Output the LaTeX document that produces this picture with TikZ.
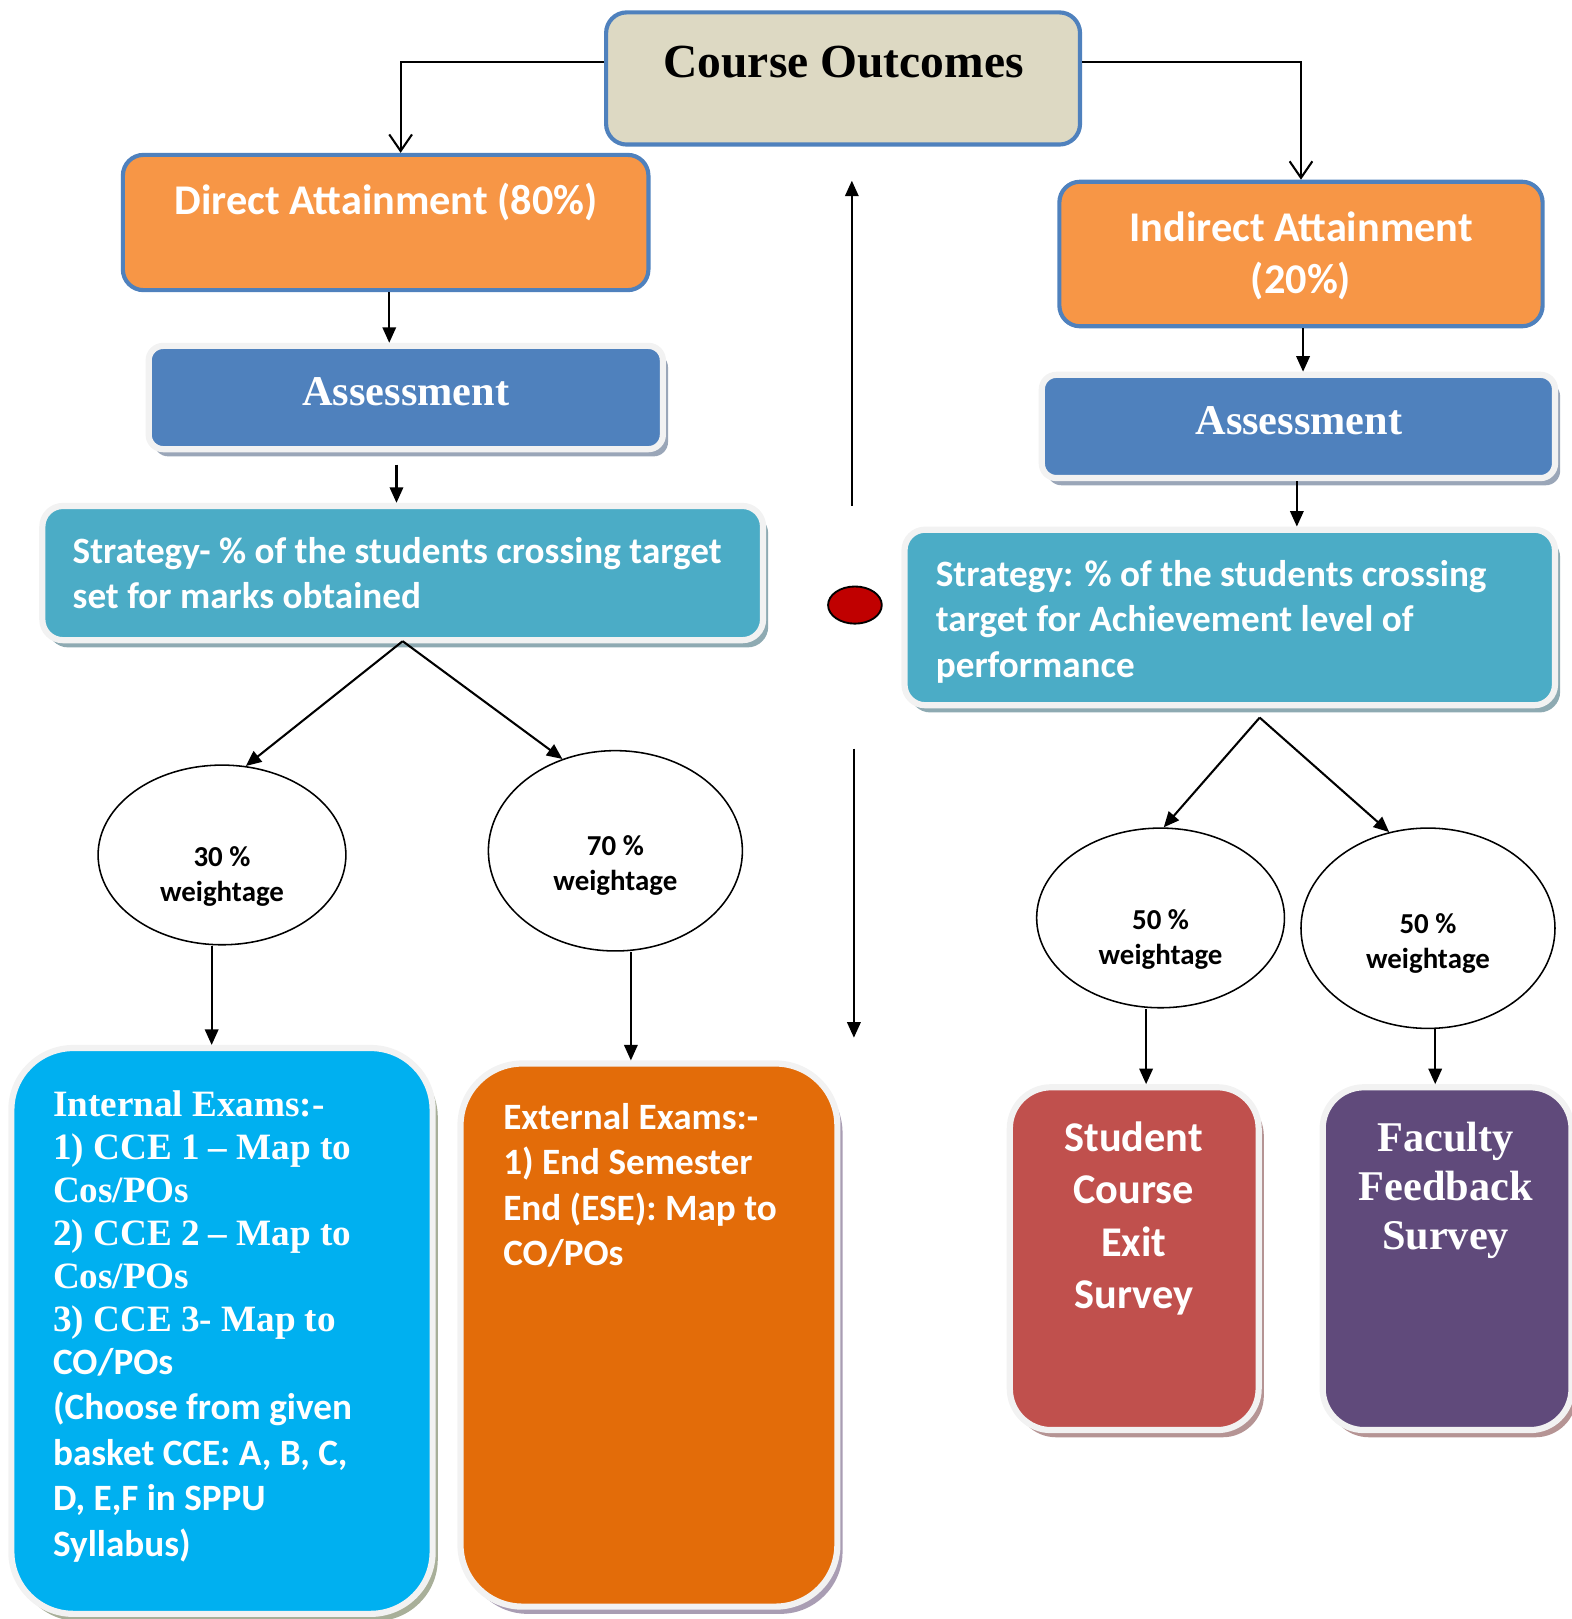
\documentclass[tikz,border=0pt]{standalone}
\usepackage{fontspec}
\setmainfont{Liberation Serif}
\newfontfamily\calibri{Carlito}
\usetikzlibrary{arrows.meta,shapes.geometric,shadows,calc}
\definecolor{tanA}{HTML}{DDD9C3}
\definecolor{orangeA}{HTML}{F79646}
\definecolor{blueA}{HTML}{4F81BD}
\definecolor{tealA}{HTML}{4BACC6}
\definecolor{cyanA}{HTML}{00B0F0}
\definecolor{orangeB}{HTML}{E36C09}
\definecolor{redA}{HTML}{C0504D}
\definecolor{purpA}{HTML}{604A7B}
\definecolor{glowA}{HTML}{F2F2F2}
\definecolor{shAss}{HTML}{9AA6B8}
\definecolor{shStr}{HTML}{8EAAB2}
\definecolor{shInt}{HTML}{A8AF99}
\definecolor{shExt}{HTML}{A99DB3}
\definecolor{shRed}{HTML}{B59494}
\definecolor{dotred}{HTML}{C00000}
\tikzset{
  conn/.style={line width=1pt, -{Triangle[length=7.5pt,width=6.5pt]}},
  openconn/.style={line width=1pt, -{Straight Barb[length=8pt,width=11pt,line width=1pt]}},
  topbox/.style={draw=blueA, line width=2pt, rounded corners=10pt, inner sep=0pt},
  glowbox/.style 2 args={fill=#1, draw=glowA, line width=3pt, inner sep=0pt,
    drop shadow={shadow xshift=2.5pt, shadow yshift=-3.5pt, fill=#2, opacity=1}},
  wt/.style={ellipse, draw, line width=0.75pt, fill=white, inner sep=0pt},
  wtxt/.style={text=white, inner sep=0pt},
  wtlabel/.style={inner sep=0pt, align=center, font=\calibri\bfseries\fontsize{14}{17}\selectfont},
}
\begin{document}
\begin{tikzpicture}[x=0.5pt,y=-0.5pt]
\useasboundingbox (0,0) rectangle (1522,1568);

% Course outcomes
\node[topbox, fill=tanA, minimum width=229.5pt, minimum height=64pt] (co) at (816.5,76) {};
\node[inner sep=0pt, font=\bfseries\fontsize{23}{27}\selectfont] (cot) at (817,60) {Course Outcomes};

% Direct / Indirect
\node[topbox, fill=orangeA, minimum width=254.5pt, minimum height=65.5pt] (direct) at (373.5,215.5) {};
\node[wtxt, font=\calibri\bfseries\fontsize{20.5}{25}\selectfont] (directt) at (374,196) {Direct Attainment (80\%)};
\node[topbox, fill=orangeA, minimum width=234pt, minimum height=70pt] (indirect) at (1260,246) {};
\node[wtxt, align=center, font=\calibri\bfseries\fontsize{20.5}{25}\selectfont] (indirectt) at (1260,248) {Indirect Attainment\\(20\%)};

\draw[openconn] (co.west |- 0,60) -| (direct.north -| 388,0);
\draw[openconn] (co.east |- 0,60) -| (indirect.north);

% Assessments
\node[glowbox={blueA}{shAss}, rounded corners=7pt, minimum width=249pt, minimum height=50pt] (assL) at (393,385) {};
\node[wtxt, font=\bfseries\fontsize{20.5}{25}\selectfont] (assLt) at (393,379) {Assessment};
\node[glowbox={blueA}{shAss}, rounded corners=7pt, minimum width=248.5pt, minimum height=50pt] (assR) at (1257.5,413) {};
\node[wtxt, font=\bfseries\fontsize{20.5}{25}\selectfont] (assRt) at (1258,407) {Assessment};

\draw[conn] (direct.south -| 377,0) -- (assL.north -| 377,0);
\draw[conn] (indirect.south -| 1262,0) -- (assR.north -| 1262,0);

% Strategies
\node[glowbox={tealA}{shStr}, rounded corners=10pt, minimum width=349pt, minimum height=65pt] (stratL) at (390,555) {};
\node[wtxt, anchor=west, align=left, font=\calibri\bfseries\fontsize{18}{22}\selectfont] (stratLt) at (70,555) {Strategy- \% of the students crossing target\\set for marks obtained};
\node[glowbox={tealA}{shStr}, rounded corners=10pt, minimum width=315pt, minimum height=85pt] (stratR) at (1191,598) {};
\node[wtxt, anchor=west, align=left, font=\calibri\bfseries\fontsize{18}{22}\selectfont] (stratRt) at (906,602) {Strategy: \% of the students crossing\\target for Achievement level of\\performance};

\draw[conn] (assL.south -| 384,0) ++(0,12) -- (stratL.north -| 384,0);
\draw[conn] (assR.south -| 1256,0) -- (stratR.north -| 1256,0);

% centre arrows and dot
\coordinate (upS) at (825,490);
\coordinate (upE) at (825,175);
\coordinate (dnS) at (827,725);
\coordinate (dnE) at (827,1005);
\draw[conn] (upS) -- (upE);
\draw[conn] (dnS) -- (dnE);
\node[ellipse, fill=dotred, draw=black, line width=0.9pt, minimum width=26pt, minimum height=18pt, inner sep=0pt] (dot) at (828,586) {};

% weightage ellipses
\node[wt, minimum width=120pt, minimum height=87pt] (e30) at (215,828) {};
\node[wtlabel] (e30t) at (215,849) {30 \%\\weightage};
\node[wt, minimum width=123pt, minimum height=97pt] (e70) at (596,824) {};
\node[wtlabel] (e70t) at (596,838) {70 \%\\weightage};
\node[wt, minimum width=120pt, minimum height=87pt] (e50a) at (1124,889) {};
\node[wtlabel] (e50at) at (1124,910) {50 \%\\weightage};
\node[wt, minimum width=123pt, minimum height=97pt] (e50b) at (1383,899) {};
\node[wtlabel] (e50bt) at (1383,914) {50 \%\\weightage};

\coordinate (apexL) at (390,621);
\coordinate (apexR) at (1220,695);
\draw[conn] (apexL) -- (e30.75);
\draw[conn] (apexL) -- (e70.120);
\draw[conn] (apexR) -- (e50a.88);
\draw[conn] (apexR) -- (e50b.112);

% bottom boxes
\node[glowbox={cyanA}{shInt}, rounded corners=30pt, minimum width=204pt, minimum height=274pt] (intl) at (215,1289) {};
\node[wtxt, anchor=north west, align=left, font=\bfseries\fontsize{18}{20.8}\selectfont] (intlt) at (51,1056) {Internal Exams:-\\1) CCE 1 – Map to\\Cos/POs\\2) CCE 2 – Map to\\Cos/POs\\3) CCE 3- Map to\\{\calibri CO/POs}\\[1.2pt]{\calibri (Choose from given}\\[1.2pt]{\calibri basket CCE: A, B, C,}\\[1.2pt]{\calibri D, E,F in SPPU}\\[1.2pt]{\calibri Syllabus)}};

\node[glowbox={orangeB}{shExt}, rounded corners=30pt, minimum width=182.5pt, minimum height=263pt] (extl) at (628.5,1293) {};
\node[wtxt, anchor=north west, align=left, font=\calibri\bfseries\fontsize{18}{22}\selectfont] (extlt) at (487,1068) {External Exams:-\\1) End Semester\\End (ESE): Map to\\CO/POs};

\node[glowbox={redA}{shRed}, rounded corners=20pt, minimum width=120.5pt, minimum height=166pt] (stud) at (1098.5,1219) {};
\node[wtxt, align=center, font=\calibri\bfseries\fontsize{20.5}{25.3}\selectfont] (studt) at (1098,1180) {Student\\Course\\Exit\\Survey};

\node[glowbox={purpA}{shRed}, rounded corners=20pt, minimum width=120.5pt, minimum height=166pt] (fac) at (1401.5,1219) {};
\node[wtxt, align=center, font=\bfseries\fontsize{20.5}{23.8}\selectfont] (fact) at (1400,1153) {Faculty\\Feedback\\Survey};

\draw[conn] (e30.south -| 205,0) -- (intl.north -| 205,0);
\draw[conn] (e70.south -| 611,0) -- (extl.north -| 611,0);
\draw[conn] (e50a.south -| 1110,0) -- (stud.north -| 1110,0);
\draw[conn] (e50b.south -| 1390,0) -- (fac.north -| 1390,0);
\end{tikzpicture}
\end{document}
